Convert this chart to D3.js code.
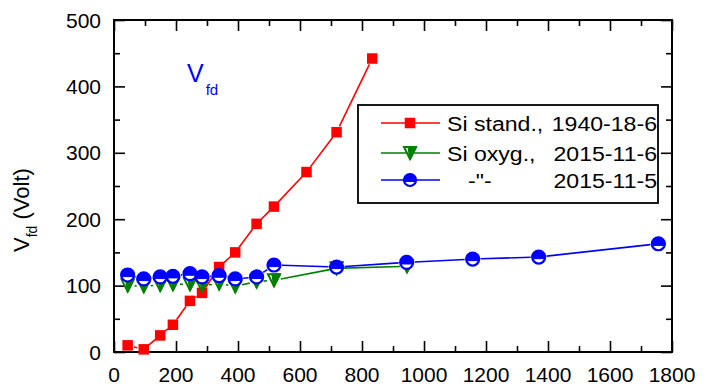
<!DOCTYPE html>
<html><head><meta charset="utf-8">
<script src="https://cdn.jsdelivr.net/npm/d3@7"></script>
<style>body{margin:0;background:#fff}svg{display:block}text{font-family:Arial,"Liberation Sans",sans-serif}</style>
</head><body>
<svg id="c" width="713" height="390"></svg>
<script>
const standX = [44, 96, 149, 190, 245, 284, 339, 391, 460, 516, 621, 718, 833];
const standV = [10, 4, 25, 41, 77, 89, 128, 150, 193, 219, 271, 331, 442];
const oxy6X = [44, 96, 149, 190, 245, 284, 339, 391, 460, 516, 718, 945];
const oxy6V = [100, 99, 101, 102, 102, 100, 103, 99, 106, 108, 126, 129];
const oxy5X = [44, 96, 149, 190, 245, 284, 339, 391, 460, 516, 718, 944, 1157, 1370, 1756];
const oxy5V = [116, 110, 113, 114, 118, 113, 115, 110, 113, 131, 128, 135, 140, 143, 163];
const xTicks = [0, 200, 400, 600, 800, 1000, 1200, 1400, 1600, 1800];
const yTicks = [0, 100, 200, 300, 400, 500];
const legendLabels = [["Si stand.,", "1940-18-6"], ["Si oxyg.,", "2015-11-6"], ["-\"-", "2015-11-5"]];
const colors = ["#ff0000", "#008000", "#0000ff"];

const svg = d3.select("#c");
const L = 114, R = 672, T = 20, B = 352;
const x = d3.scaleLinear().domain([0, 1800]).range([L, R]);
const y = d3.scaleLinear().domain([0, 500]).range([B, T]);

function ax(gen, tr, major, minor) {
  const g = svg.append("g").attr("transform", tr);
  g.call(gen.tickValues(minor).tickSize(6).tickFormat(""));
  g.select(".domain").remove();
  const g2 = svg.append("g").attr("transform", tr);
  g2.call(gen.tickValues(major).tickSize(11).tickFormat(""));
  g2.select(".domain").remove();
  [g, g2].forEach(k => k.selectAll("line").attr("stroke", "#000").attr("stroke-width", 1.6));
}
const xMinor = d3.range(100, 1800, 200), yMinor = d3.range(50, 500, 100);
ax(d3.axisTop(x), `translate(0,${B})`, xTicks, xMinor);
ax(d3.axisBottom(x), `translate(0,${T})`, xTicks, xMinor);
ax(d3.axisRight(y), `translate(${L},0)`, yTicks, yMinor);
ax(d3.axisLeft(y), `translate(${R},0)`, yTicks, yMinor);
svg.append("rect").attr("x", L).attr("y", T).attr("width", R - L).attr("height", B - T)
  .attr("fill", "none").attr("stroke", "#000").attr("stroke-width", 2);

svg.selectAll(".xl").data(xTicks).enter().append("text")
  .attr("x", d => x(d)).attr("y", B + 30).attr("text-anchor", "middle")
  .attr("font-size", 21).text(d => d);
svg.selectAll(".yl").data(yTicks).enter().append("text")
  .attr("x", L - 13).attr("y", d => y(d) + 7.5).attr("text-anchor", "end")
  .attr("font-size", 21).text(d => d);

const yt = svg.append("text").attr("transform", `translate(29,${252}) rotate(-90)`)
  .attr("font-size", 22).attr("text-anchor", "start");
yt.append("tspan").text("V");
yt.append("tspan").attr("font-size", 14).attr("dy", 8).text("fd");
yt.append("tspan").attr("dy", -8).text(" (Volt)");

const an = svg.append("text").attr("x", 187).attr("y", 82).attr("fill", "#0000ff").attr("font-size", 25);
an.append("tspan").text("V");
an.append("tspan").attr("font-size", 15).attr("dy", 13).attr("dx", 2).text("fd");

function gapLine(xs, vs, color, gap) {
  const pts = xs.map((d, i) => [x(d), y(vs[i])]);
  for (let i = 0; i < pts.length - 1; i++) {
    const [x1, y1] = pts[i], [x2, y2] = pts[i + 1];
    const len = Math.hypot(x2 - x1, y2 - y1);
    if (len <= 2 * gap) continue;
    const ux = (x2 - x1) / len, uy = (y2 - y1) / len;
    svg.append("line").attr("x1", x1 + ux * gap).attr("y1", y1 + uy * gap)
      .attr("x2", x2 - ux * gap).attr("y2", y2 - uy * gap)
      .attr("stroke", color).attr("stroke-width", 1.6);
  }
}
function square(g, cx, cy, s) {
  g.append("rect").attr("x", cx - s / 2).attr("y", cy - s / 2).attr("width", s).attr("height", s).attr("fill", colors[0]);
}
function tri(g, cx, cy, s) {
  const h = s;
  g.append("path").attr("d", `M${cx - s / 2},${cy - h / 2}L${cx + s / 2},${cy - h / 2}L${cx},${cy + h / 2}Z`)
    .attr("fill", "#fff").attr("stroke", colors[1]).attr("stroke-width", 2);
  g.append("path").attr("d", `M${cx - s / 8},${cy - h / 2}L${cx + s / 2},${cy - h / 2}L${cx},${cy + h / 2}Z`)
    .attr("fill", colors[1]).attr("stroke", colors[1]).attr("stroke-width", 2).attr("stroke-linejoin", "round");
}
function circ(g, cx, cy, r) {
  g.append("circle").attr("cx", cx).attr("cy", cy).attr("r", r).attr("fill", "#fff")
    .attr("stroke", colors[2]).attr("stroke-width", 2.2);
  const dy = r * 0.25, hw = Math.sqrt(r * r - dy * dy);
  g.append("path").attr("d", `M${cx - hw},${cy + dy}A${r},${r} 0 1 1 ${cx + hw},${cy + dy}Z`).attr("fill", colors[2])
    .attr("stroke", colors[2]).attr("stroke-width", 1);
}

gapLine(standX, standV, colors[0], 6.5);
const gs = svg.append("g");
standX.forEach((d, i) => square(gs, x(d), y(standV[i]), 10.5));
gapLine(oxy6X, oxy6V, colors[1], 7);
const gt = svg.append("g");
oxy6X.forEach((d, i) => tri(gt, x(d), y(oxy6V[i]), 12));
gapLine(oxy5X, oxy5V, colors[2], 8);
const gc = svg.append("g");
oxy5X.forEach((d, i) => circ(gc, x(d), y(oxy5V[i]), 6.5));

svg.append("rect").attr("x", 358).attr("y", 105).attr("width", 300).attr("height", 98)
  .attr("fill", "#fff").attr("stroke", "#000").attr("stroke-width", 1.8);
const rows = [123, 153, 180];
rows.forEach((ry, i) => {
  svg.append("line").attr("x1", 381).attr("x2", 440).attr("y1", ry).attr("y2", ry)
    .attr("stroke", colors[i]).attr("stroke-width", 1.6);
  if (i === 0) square(svg, 410, ry, 10.5);
  if (i === 1) tri(svg, 410, ry, 12);
  if (i === 2) circ(svg, 410, ry, 6);
  svg.append("text").attr("transform", `translate(${i === 2 ? 468 : 447},${ry + 7.5}) scale(1.1,1)`)
    .attr("font-size", 21).text(legendLabels[i][0]);
  svg.append("text").attr("transform", `translate(657,${ry + 7.5}) scale(1.1,1)`)
    .attr("font-size", 21).attr("text-anchor", "end").text(legendLabels[i][1]);
});
</script>
</body></html>
